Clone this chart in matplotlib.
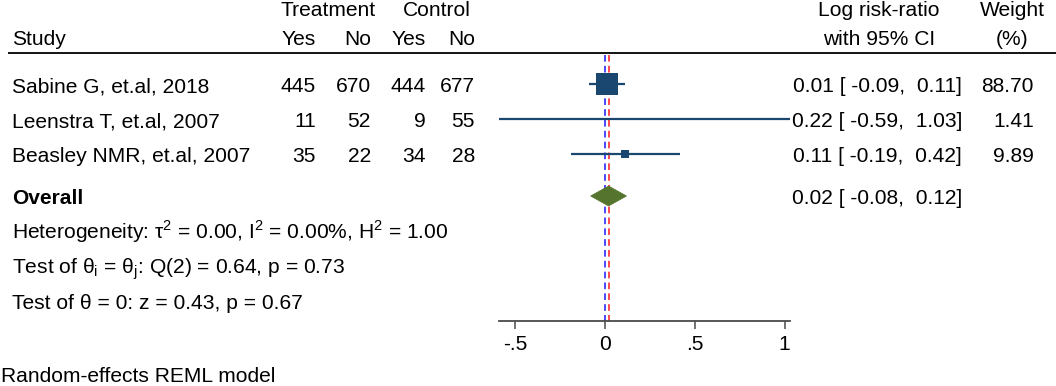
import matplotlib
matplotlib.use("Agg")
import matplotlib.pyplot as plt
from matplotlib.patches import Polygon

plt.rcParams['font.family'] = ['Liberation Sans', 'DejaVu Sans']

# ---------------- data ----------------
studies = ["Sabine G, et.al, 2018", "Leenstra T, et.al, 2007", "Beasley NMR, et.al, 2007"]
treat_yes = [445, 11, 35]
treat_no = [670, 52, 22]
ctrl_yes = [444, 9, 34]
ctrl_no = [677, 55, 28]
estimate = [0.01, 0.22, 0.11]
ci_low = [-0.09, -0.59, -0.19]
ci_high = [0.11, 1.03, 0.42]
weights = [88.70, 1.41, 9.89]
overall_est = 0.02
overall_low = -0.08
overall_high = 0.12
xticks = [-0.5, 0, 0.5, 1]
xtick_labels = ["-.5", "0", ".5", "1"]
het_text = "Heterogeneity: τ$^\\mathregular{2}$ = 0.00, I$^\\mathregular{2}$ = 0.00%, H$^\\mathregular{2}$ = 1.00"
q_text = "Test of θ$_\\mathregular{i}$ = θ$_\\mathregular{j}$: Q(2) = 0.64, p = 0.73"
z_text = "Test of θ = 0: z = 0.43, p = 0.67"
model_text = "Random-effects REML model"

# ---------------- layout ----------------
W, H = 1056, 386
fig = plt.figure(figsize=(W / 100, H / 100), dpi=100)
fig.patch.set_facecolor("white")

tx = fig.add_axes([0, 0, 1, 1])
tx.set_xlim(0, W)
tx.set_ylim(H, 0)
tx.axis("off")

FS = 15.1
NAVY = "#1a476f"
GREEN = "#55752f"

row_y = [84, 118.5, 154]       # marker centres (pixel rows)
text_off = 8.5                 # baseline offset from marker centre
overall_y = 196
axis_y = 321
header_y = 53

# header
tx.text(328, 16.5, "Treatment", ha="center", va="baseline", fontsize=FS)
tx.text(437, 16.5, "Control", ha="center", va="baseline", fontsize=FS)
tx.text(12, 45, "Study", ha="left", va="baseline", fontsize=FS)
col_x = [316, 371, 426, 475]
for x, lab in zip(col_x, ["Yes", "No", "Yes", "No"]):
    tx.text(x, 45, lab, ha="right", va="baseline", fontsize=FS)
tx.text(879, 16.5, "Log risk-ratio", ha="center", va="baseline", fontsize=FS)
tx.text(879, 45, "with 95% CI", ha="center", va="baseline", fontsize=FS)
tx.text(1012, 16.5, "Weight", ha="center", va="baseline", fontsize=FS)
tx.text(1012, 45, "(%)", ha="center", va="baseline", fontsize=FS)
tx.plot([8, W], [header_y, header_y], color="black", lw=1.3, solid_capstyle="butt")

CI_RIGHT = 962
W_RIGHT = 1034

# study rows
for i, name in enumerate(studies):
    yb = row_y[i] + text_off
    tx.text(12, yb, name, ha="left", va="baseline", fontsize=FS)
    for x, v in zip(col_x, [treat_yes[i], treat_no[i], ctrl_yes[i], ctrl_no[i]]):
        tx.text(x, yb, str(v), ha="right", va="baseline", fontsize=FS)
    tx.text(CI_RIGHT, yb, f"{estimate[i]:.2f} [ {ci_low[i]:.2f},  {ci_high[i]:.2f}]",
            ha="right", va="baseline", fontsize=FS)
    tx.text(W_RIGHT, yb, f"{weights[i]:.2f}", ha="right", va="baseline", fontsize=FS)

# overall row
tx.text(12, overall_y + 8.5, "Overall", ha="left", va="baseline", fontsize=FS, fontweight="bold")
tx.text(CI_RIGHT, overall_y + 8.5, f"{overall_est:.2f} [ {overall_low:.2f},  {overall_high:.2f}]",
        ha="right", va="baseline", fontsize=FS)

# statistics
tx.text(12, 239, het_text, ha="left", va="baseline", fontsize=FS)
tx.text(12, 273.5, q_text, ha="left", va="baseline", fontsize=FS)
tx.text(12, 309, z_text, ha="left", va="baseline", fontsize=FS)
tx.text(1, 382, model_text, ha="left", va="baseline", fontsize=FS)

# ---------------- forest panel ----------------
ax_left, ax_right = 499, 790
ax = fig.add_axes([ax_left / W, (H - axis_y) / H, (ax_right - ax_left) / W, (axis_y - header_y) / H])
ax.set_xlim(min(ci_low), max(ci_high))
ax.set_ylim(axis_y, header_y)
ax.patch.set_alpha(0)
for s in ["top", "left", "right"]:
    ax.spines[s].set_visible(False)
ax.spines["bottom"].set_color("#4a4a4a")
ax.spines["bottom"].set_linewidth(1.3)
ax.set_yticks([])
ax.set_xticks(xticks)
ax.set_xticklabels(xtick_labels, fontsize=FS)
ax.tick_params(axis="x", direction="out", length=6, width=1.1, color="#4a4a4a", pad=4)

# reference lines
ax.plot([0, 0], [header_y + 2, axis_y], color="#2b2bff", lw=1.2, ls=(0, (4, 2.5)), clip_on=False, zorder=1)
ax.plot([overall_est, overall_est], [header_y + 2, axis_y], color="#ff2b2b", lw=1.2, ls=(0, (4, 2.5)),
        clip_on=False, zorder=1)

# CIs and squares
for i in range(len(studies)):
    ax.plot([ci_low[i], ci_high[i]], [row_y[i], row_y[i]], color=NAVY, lw=1.6, clip_on=False, zorder=2,
            solid_capstyle="butt")
    ax.scatter([estimate[i]], [row_y[i]], marker="s", s=weights[i] * 3.05, color=NAVY,
               linewidths=0, zorder=3, clip_on=False)

# overall diamond
diamond = Polygon([[overall_low, overall_y], [overall_est, overall_y - 10],
                   [overall_high, overall_y], [overall_est, overall_y + 10]],
                  closed=True, facecolor=GREEN, edgecolor=GREEN, lw=0.5, zorder=3)
ax.add_patch(diamond)

fig.savefig("out.png", dpi=100, facecolor="white")
